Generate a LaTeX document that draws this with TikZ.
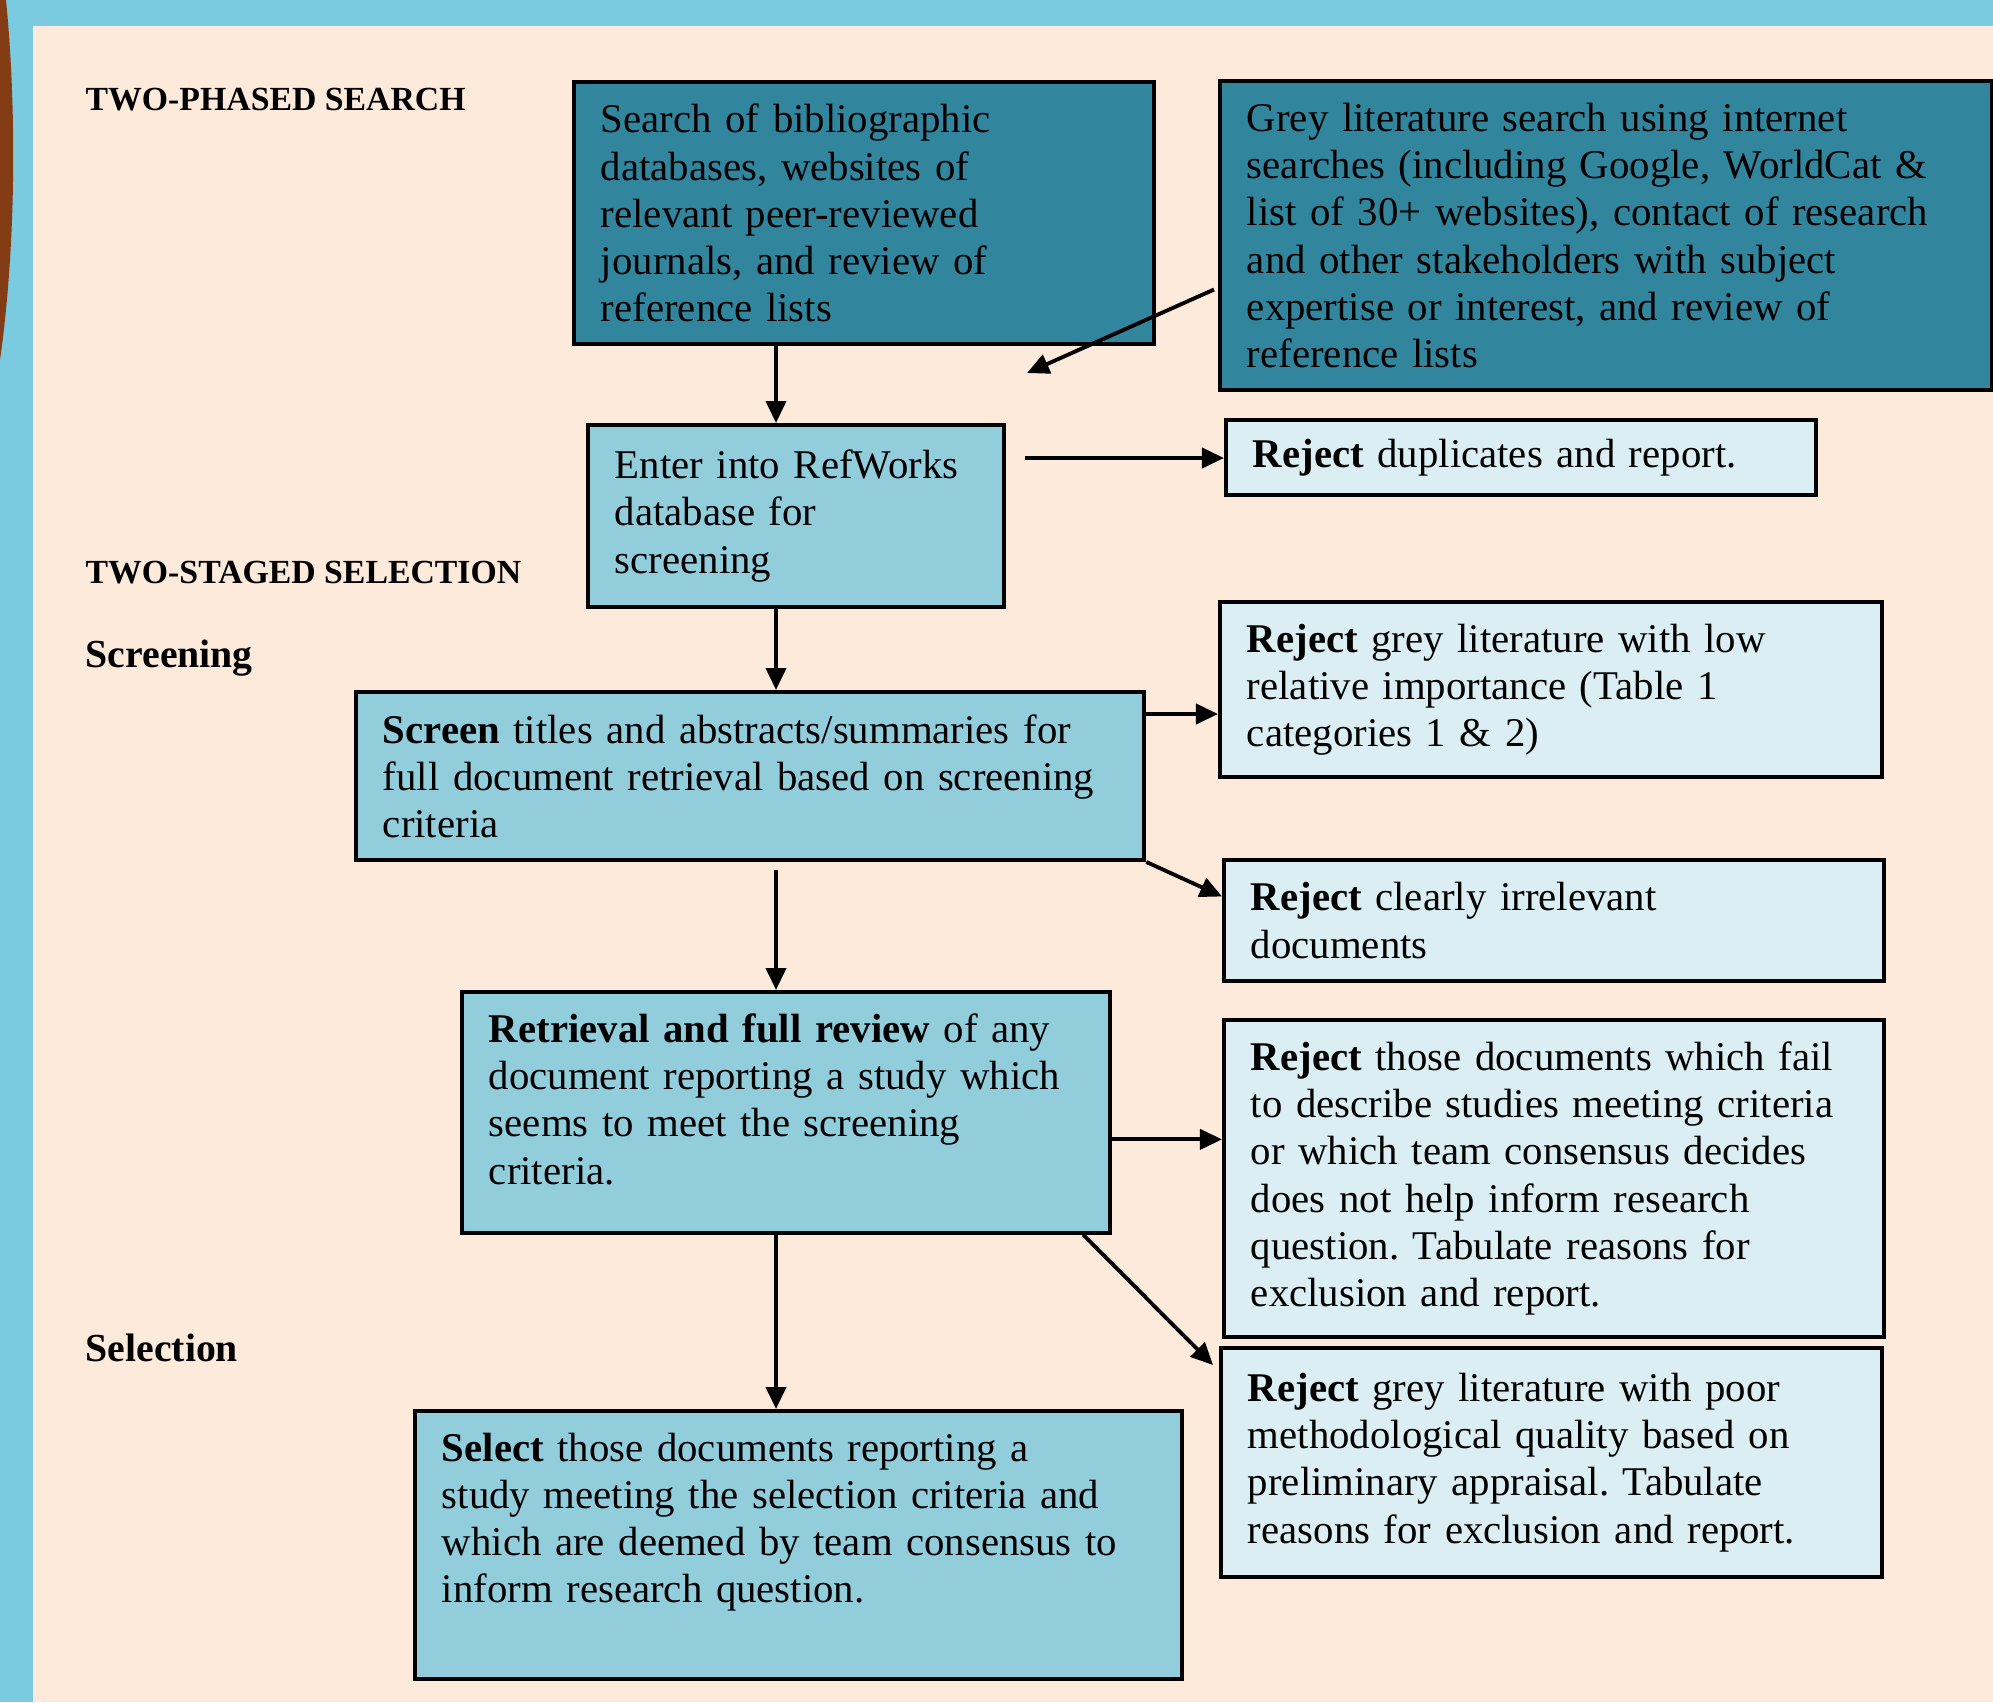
\documentclass[tikz,border=0pt]{standalone}
\usepackage{fontspec}
\setmainfont{Liberation Serif}
\usetikzlibrary{arrows.meta,calc}
\hyphenpenalty=10000
\frenchspacing

\definecolor{frameblue}{HTML}{7ACBE0}
\definecolor{panel}{HTML}{FDEADA}
\definecolor{rust}{HTML}{843C14}
\definecolor{deepteal}{HTML}{31859C}
\definecolor{midblue}{HTML}{92CDDC}
\definecolor{paleblue}{HTML}{DAEEF3}

\tikzset{
  flowbox/.style={draw, line width=1.1pt, anchor=north west, align=left,
    inner xsep=0.27cm, inner ysep=0.22cm, font=\fontsize{11.6}{13.4}\selectfont},
  phasebox/.style={flowbox, fill=deepteal},
  stagebox/.style={flowbox, fill=midblue},
  rejectbox/.style={flowbox, fill=paleblue},
  phasehead/.style={anchor=west, inner sep=0pt, font=\bfseries\fontsize{9.6}{12}\selectfont},
  subhead/.style={anchor=west, inner sep=0pt, font=\bfseries\fontsize{11.3}{13}\selectfont},
  arr/.style={line width=1.1pt, -{Triangle[length=0.22cm,width=0.2cm]}}
}

\begin{document}
\begin{tikzpicture}[x=0.01cm, y=-0.01cm]
        \useasboundingbox (0,0) rectangle (1993,1702);
        \fill[frameblue] (0,0) rectangle (1993,1702);
        \fill[panel] (33,26) rectangle (1993,1702);
        \fill[rust] (0,0) -- (6,0) .. controls (16,100) and (17,240) .. (0,360) -- cycle;

        \node[phasehead] (phase) at (85,100) {TWO-PHASED SEARCH};
        \node[phasehead] (stages) at (85,573) {TWO-STAGED SELECTION};
        \node[subhead] (screening) at (85,658) {Screening};
        \node[subhead] (selection) at (85,1348) {Selection};

        \node[phasebox, text width=5.26cm, minimum height=2.62cm] (search) at (572,80)
            {Search of bibliographic\\databases, websites of\\relevant peer-reviewed\\journals, and review of\\reference lists};
        \node[phasebox, text width=7.18cm, minimum height=3.09cm] (grey) at (1218,79)
            {Grey literature search using internet\\searches (including Google, WorldCat \&\\list of 30+ websites), contact of research\\and other stakeholders with subject\\expertise or interest, and review of\\reference lists};
        \node[stagebox, text width=3.62cm, minimum height=1.82cm] (refworks) at (586,423)
            {Enter into RefWorks\\database for\\screening};
        \node[rejectbox, text width=5.36cm, minimum height=0.75cm, inner ysep=0.15cm] (dup) at (1224,418)
            {\textbf{Reject} duplicates and report.};
        \node[stagebox, text width=7.34cm, minimum height=1.68cm] (screen) at (354,690)
            {\textbf{Screen} titles and abstracts/summaries for\\full document retrieval based on screening\\criteria};
        \node[rejectbox, text width=6.08cm, minimum height=1.73cm] (low) at (1218,600)
            {\textbf{Reject} grey literature with low\\relative importance (Table 1\\categories 1 \& 2)};
        \node[rejectbox, text width=6.06cm, minimum height=1.21cm] (irr) at (1222,858)
            {\textbf{Reject} clearly irrelevant\\documents};
        \node[stagebox, text width=5.94cm, minimum height=2.40cm, text depth=1.68cm] (retrieval) at (460,990)
            {\textbf{Retrieval and full review} of any\\document reporting a study which\\seems to meet the screening\\criteria.};
        \node[rejectbox, text width=6.06cm, minimum height=3.09cm] (those) at (1222,1018)
            {\textbf{Reject} those documents which fail\\to describe studies meeting criteria\\or which team consensus decides\\does not help inform research\\question. Tabulate reasons for\\exclusion and report.};
        \node[rejectbox, text width=6.07cm, minimum height=2.29cm] (poor) at (1219,1346)
            {\textbf{Reject} grey literature with poor\\methodological quality based on\\preliminary appraisal. Tabulate\\reasons for exclusion and report.};
        \node[stagebox, text width=7.13cm, minimum height=2.68cm, text depth=1.96cm] (select) at (413,1409)
            {\textbf{Select} those documents reporting a\\study meeting the selection criteria and\\which are deemed by team consensus to\\inform research question.};

        \coordinate (spine) at (776,0);
        \coordinate (merge) at (1027,373);
        \coordinate (dupfrom) at (1025,458);
        \draw[arr] (search.south -| spine) -- (refworks.north -| spine);
        \draw[arr] ($(grey.west)+(-4,54)$) -- (merge);
        \draw[arr] (dupfrom) -- (dupfrom -| dup.west);
        \draw[arr] (refworks.south -| spine) -- (screen.north -| spine);
        \draw[arr] ($(screen.north east)+(0,24)$) coordinate (lowfrom) -- (lowfrom -| low.west);
        \draw[arr] (screen.south east) -- ($(irr.west)+(0,-24)$);
        \draw[arr] ($(screen.south -| spine)+(0,8)$) -- (retrieval.north -| spine);
        \draw[arr] ($(retrieval.east)+(0,27)$) coordinate (thosefrom) -- (thosefrom -| those.west);
        \draw[arr] ($(retrieval.south east)+(-29,0)$) -- ($(poor.north west)+(-6,19)$);
        \draw[arr] (retrieval.south -| spine) -- (select.north -| spine);
    \end{tikzpicture}
\end{document}
